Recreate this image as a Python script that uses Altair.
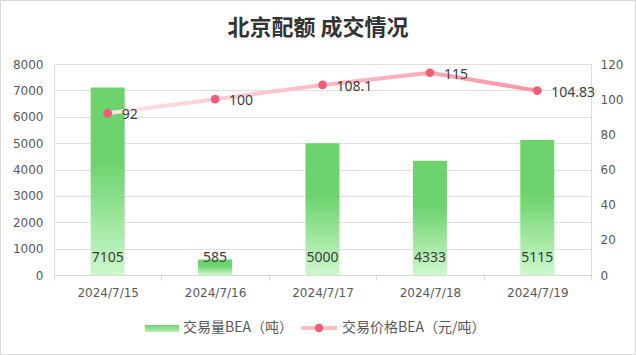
import altair as alt
import pandas as pd

# ---------------- data ----------------
dates = ["2024/7/15", "2024/7/16", "2024/7/17", "2024/7/18", "2024/7/19"]
volume = [7105, 585, 5000, 4333, 5115]
price = [92, 100, 108.1, 115, 104.83]
series_names = ["交易量BEA（吨）", "交易价格BEA（元/吨）"]
title_text = "北京配额 成交情况"
left_ticks = [0, 1000, 2000, 3000, 4000, 5000, 6000, 7000, 8000]
right_ticks = [0, 20, 40, 60, 80, 100, 120]

df = pd.DataFrame({
    "date": dates,
    "volume": volume,
    "price": price,
    "price_label": [f"{p:g}" for p in price],
})
dummy = pd.DataFrame({"k": [1]})

W, H = 537, 211
NUM_FONT = "DejaVu Sans"
LBL_FONT = "Noto Sans"
CJK_FONT = "Noto Sans CJK SC"
GREEN = "#6dd36d"
PINK_PT = "#f25c74"

x_enc = alt.X(
    "date:N", sort=dates,
    scale=alt.Scale(paddingInner=0, paddingOuter=0),
    axis=alt.Axis(title=None, labelAngle=0, tickBand="extent", grid=False,
                  domainColor="#d9d9d9", tickColor="#d9d9d9", tickSize=5,
                  labelPadding=7, labelColor="#595959", labelFont=NUM_FONT,
                  labelFontSize=12),
)

bar_grad = {
    "gradient": "linear", "x1": 0, "y1": 0, "x2": 0, "y2": 1,
    "stops": [
        {"offset": 0, "color": GREEN},
        {"offset": 0.4, "color": GREEN},
        {"offset": 1, "color": "#cdf8cd"},
    ],
}
line_grad = {
    "gradient": "linear", "x1": 0, "y1": 0, "x2": 1, "y2": 0,
    "stops": [
        {"offset": 0, "color": "#fde3e7"},
        {"offset": 1, "color": "#ff95a6"},
    ],
}

left_axis = alt.Axis(title=None, orient="left", values=left_ticks, format="d",
                     grid=True, gridColor="#e0e0e0", domain=False, ticks=False,
                     labelOverlap=False, labelPadding=11, labelColor="#595959",
                     labelFont=NUM_FONT, labelFontSize=12)
right_axis = alt.Axis(title=None, orient="right", values=right_ticks, format="d",
                      grid=False, domain=False, ticks=False, labelOverlap=False,
                      labelPadding=9, labelColor="#595959", labelFont=NUM_FONT,
                      labelFontSize=12)
left_scale = alt.Scale(domain=[0, 8000])
right_scale = alt.Scale(domain=[0, 120])

bars = alt.Chart(df).mark_bar(size=34, color=bar_grad).encode(
    x=x_enc, y=alt.Y("volume:Q", scale=left_scale, axis=left_axis))
bar_text = alt.Chart(df).transform_calculate(base="0").mark_text(
    dy=-17, fontSize=14, font=LBL_FONT, color="#404040"
).encode(x=x_enc, y=alt.Y("base:Q", scale=left_scale, axis=left_axis),
         text="volume:Q")
bar_layer = alt.layer(bars, bar_text)

y_r = alt.Y("price:Q", scale=right_scale, axis=right_axis)
line = alt.Chart(df).mark_line(strokeWidth=4, color=line_grad).encode(x=x_enc, y=y_r)
pts = alt.Chart(df).mark_circle(size=75, color=PINK_PT, opacity=1).encode(x=x_enc, y=y_r)
line_text = alt.Chart(df).mark_text(
    align="left", dx=14, dy=2, fontSize=14, font=LBL_FONT, color="#404040"
).encode(x=x_enc, y=y_r, text="price_label:N")
line_layer = alt.layer(line, pts, line_text)

# ---------- decorations: border, title, manual legend ----------
base = alt.Chart(dummy)
border = base.mark_rect(fill="transparent", stroke="#d9d9d9", strokeWidth=1).encode(
    x=alt.value(-53.5), x2=alt.value(581.5), y=alt.value(-63.5), y2=alt.value(290.5))
title = base.mark_text(align="center", baseline="middle", fontSize=22, font=CJK_FONT,
                       fontWeight="bold", color="#333333", text=title_text).encode(
    x=alt.value(264), y=alt.value(-36))
leg_sw = base.mark_rect(color={
    "gradient": "linear", "x1": 0, "y1": 0, "x2": 0, "y2": 1,
    "stops": [{"offset": 0, "color": GREEN}, {"offset": 1, "color": "#b8efb8"}]}
).encode(x=alt.value(91), x2=alt.value(125), y=alt.value(261), y2=alt.value(268))
leg_t1 = base.mark_text(align="left", baseline="middle", fontSize=14, font=CJK_FONT,
                        color="#595959", text=series_names[0]).encode(
    x=alt.value(129), y=alt.value(264))
leg_line = base.mark_rule(strokeWidth=4, color="#ffc0ca").encode(
    x=alt.value(247), x2=alt.value(283), y=alt.value(264))
leg_pt = base.mark_circle(size=75, color=PINK_PT, opacity=1).encode(
    x=alt.value(265), y=alt.value(264))
leg_t2 = base.mark_text(align="left", baseline="middle", fontSize=14, font=CJK_FONT,
                        color="#595959", text=series_names[1]).encode(
    x=alt.value(288), y=alt.value(264))
decor = alt.layer(border, title, leg_sw, leg_t1, leg_line, leg_pt, leg_t2)

chart = alt.layer(bar_layer, line_layer, decor).resolve_scale(
    y="independent"
).properties(
    width=W, height=H,
    autosize=alt.AutoSizeParams(type="none"),
    padding={"left": 54, "top": 64, "right": 45, "bottom": 80},
).configure_view(stroke=None).configure(background="white")

chart.save("out.html", embed_options={"renderer": "svg", "actions": False})
